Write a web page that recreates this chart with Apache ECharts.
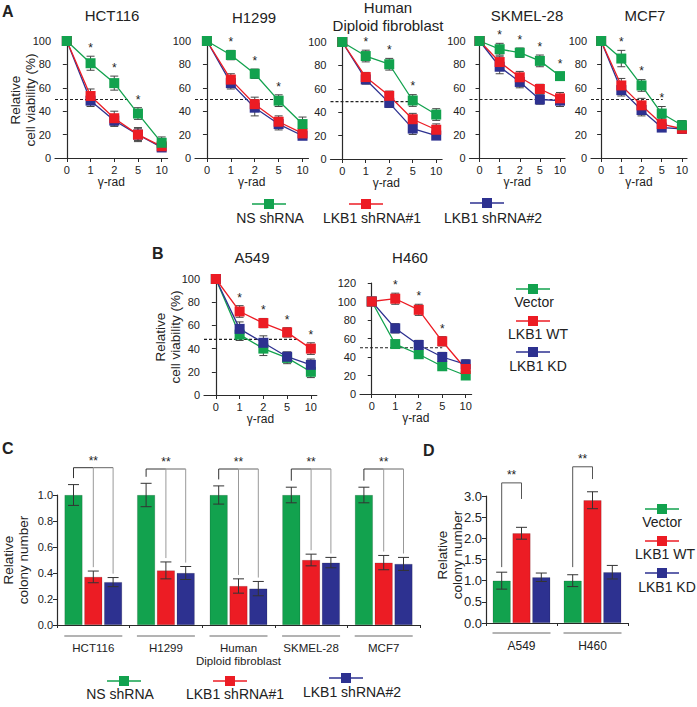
<!DOCTYPE html>
<html><head><meta charset="utf-8">
<script src="https://cdn.jsdelivr.net/npm/echarts@6/dist/echarts.min.js"></script>
<style>html,body{margin:0;padding:0;background:#fff}#c{width:697px;height:707px}</style>
</head><body><div id="c"></div>
<script>
// ================= DATA =================
const doses = ['0', '1', '2', '5', '10'];
const shNames = ['NS shRNA', 'LKB1 shRNA#1', 'LKB1 shRNA#2'];
const bNames = ['Vector', 'LKB1 WT', 'LKB1 KD'];

// Panel A: relative cell viability (%)
const aCells = ['HCT116', 'H1299', 'Human\nDiploid fibroblast', 'SKMEL-28', 'MCF7'];
const aNS   = [[100, 81, 64, 38, 13], [100, 88, 72, 49, 29], [100, 88, 81, 50, 38], [100, 93, 90, 83, 70], [100, 85, 62, 38, 28]];
const aNSe  = [[0, 6, 6, 5, 5], [0, 4, 4, 5, 6], [0, 5, 5, 5, 5], [0, 5, 4, 5, 3], [0, 7, 5, 6, 4]];
const aSh1  = [[100, 53, 34, 20, 10], [100, 67, 46, 31, 21], [100, 70, 54, 34, 25], [100, 82, 69, 59, 51], [100, 62, 45, 29, 25]];
const aSh1e = [[0, 6, 6, 6, 3], [0, 5, 6, 5, 3], [0, 4, 4, 5, 5], [0, 5, 5, 4, 5], [0, 6, 6, 5, 4]];
const aSh2  = [[100, 49, 32, 20, 9], [100, 64, 43, 29, 19], [100, 68, 48, 26, 20], [100, 78, 65, 50, 49], [100, 58, 41, 26, 25]];
const aSh2e = [[0, 5, 5, 5, 3], [0, 5, 7, 5, 3], [0, 4, 4, 5, 3], [0, 6, 5, 4, 5], [0, 5, 5, 3, 4]];
const aStars = [[1, 2, 3], [1, 2, 3], [1, 2, 3], [1, 2, 3, 4], [1, 2, 3]];
const aHalf = [50, 50, 49, 50, 50];
const aHalfEnd = [2.6, 3.1, 2.85, 4, 3.05];

// Panel B
const bCells = ['A549', 'H460'];
const bVec  = [[100, 52, 40, 32, 20], [100, 54, 43, 30, 20]];
const bVecE = [[0, 5, 6, 5, 5], [0, 4, 4, 4, 3]];
const bWT   = [[100, 72, 62, 54, 40], [100, 103, 91, 57, 27]];
const bWTe  = [[0, 5, 4, 4, 5], [0, 6, 6, 5, 5]];
const bKD   = [[100, 57, 45, 33, 26], [100, 71, 53, 40, 32]];
const bKDe  = [[0, 6, 6, 4, 5], [0, 5, 5, 5, 5]];
const bStars = [[1, 2, 3, 4], [1, 2, 3]];
const bHalf = [48, 50];
const bHalfEnd = [3.4, 3.0];
const bYmax = [100, 120];

// Panel C: relative colony number
const cCells = ['HCT116', 'H1299', 'Human\nDiploid fibroblast', 'SKMEL-28', 'MCF7'];
const cNS   = [1, 1, 1, 1, 1];
const cNSe  = [0.08, 0.09, 0.07, 0.06, 0.06];
const cSh1  = [0.37, 0.42, 0.30, 0.50, 0.48];
const cSh1e = [0.045, 0.065, 0.055, 0.045, 0.055];
const cSh2  = [0.33, 0.40, 0.28, 0.48, 0.47];
const cSh2e = [0.035, 0.05, 0.055, 0.04, 0.05];
const cBracketTop = [1.21, 1.2, 1.2, 1.2, 1.2];

// Panel D
const dCells = ['A549', 'H460'];
const dVec  = [1.0, 1.0];
const dVecE = [0.2, 0.14];
const dWT   = [2.12, 2.9];
const dWTe  = [0.14, 0.2];
const dKD   = [1.08, 1.2];
const dKDe  = [0.1, 0.16];
const dBracketTop = [3.31, 3.69];
const dBracketLeftEnd = [1.32, 1.32];
const dBracketRightEnd = [2.93, 3.4];

// ================= STYLE / LAYOUT =================
const FONT = '"Liberation Sans", Arial, Helvetica, sans-serif';
const GREEN = '#12a24e', RED = '#ec1c24', BLUE = '#2d3190';
const AX = '#2a2a2a', TXT = '#222';
const aBoxes = [[55, 41, 112.6, 117], [195, 41, 113.5, 117], [330.5, 42, 111.6, 117], [469.5, 41, 95.5, 117], [591, 41, 96, 117]];
const bBoxes = [[204, 279, 112.8, 116], [360, 283, 111.6, 111]];
const BW = 18, BOFF = 19.8;

const grids = [], xAxes = [], yAxes = [], series = [], graphics = [];

function errItem(cap, dx, color) {
  return function (params, api) {
    const x = api.value(0), v = api.value(1), e = api.value(2);
    if (!e) return null;
    const t = api.coord([x, v + e]), b = api.coord([x, v - e]);
    const cx = t[0] + dx;
    const st = { stroke: color, lineWidth: 1 };
    return { type: 'group', children: [
      { type: 'line', shape: { x1: cx, y1: t[1], x2: cx, y2: b[1] }, style: st },
      { type: 'line', shape: { x1: cx - cap / 2, y1: t[1], x2: cx + cap / 2, y2: t[1] }, style: st },
      { type: 'line', shape: { x1: cx - cap / 2, y1: b[1], x2: cx + cap / 2, y2: b[1] }, style: st }
    ] };
  };
}
function starItem(params, api) {
  const p = api.coord([api.value(0), api.value(1)]);
  return { type: 'text', x: p[0], y: p[1] - 1, style: { text: '*', fill: TXT, font: '12px ' + FONT, align: 'center', verticalAlign: 'bottom' } };
}

function linePlot(box, sets, starIdx, starSet, half, halfEnd, ymax) {
  const gi = grids.length;
  grids.push({ left: box[0], top: box[1], width: box[2], height: box[3] });
  xAxes.push({
    gridIndex: gi, type: 'value', min: -0.5, max: 4.25,
    axisLine: { show: true, onZero: false, lineStyle: { color: AX, width: 1.2 } },
    axisTick: { show: true, customValues: [0, 1, 2, 3, 4], length: 4, lineStyle: { color: AX } },
    axisLabel: { customValues: [0, 1, 2, 3, 4], formatter: v => doses[v], margin: 6, fontSize: 11, color: TXT, fontFamily: FONT },
    splitLine: { show: false },
    name: 'γ-rad', nameLocation: 'middle', nameGap: 18, nameTextStyle: { fontSize: 12, color: TXT, fontFamily: FONT }
  });
  yAxes.push({
    gridIndex: gi, type: 'value', min: 0, max: ymax, interval: 20,
    axisLine: { show: true, lineStyle: { color: AX, width: 1.2 } },
    axisTick: { show: true, length: 4, lineStyle: { color: AX } },
    axisLabel: { margin: 4, fontSize: 11, color: TXT, fontFamily: FONT },
    splitLine: { show: false }
  });
  series.push({ type: 'line', xAxisIndex: gi, yAxisIndex: gi, data: [[-0.5, half], [halfEnd, half]], symbol: 'none', silent: true, z: 1,
    lineStyle: { color: '#222', width: 1.2, type: [3, 2] } });
  sets.forEach(s => {
    series.push({ type: 'custom', xAxisIndex: gi, yAxisIndex: gi, z: 2, silent: true, renderItem: errItem(8, 0, '#444'),
      encode: { x: 0, y: 1 }, data: s.v.map((v, j) => [j, v, s.e[j]]) });
  });
  sets.forEach(s => {
    series.push({ type: 'line', name: s.name, xAxisIndex: gi, yAxisIndex: gi, z: 3, clip: false,
      data: s.v.map((v, j) => [j, v]), symbol: 'rect', symbolSize: 10,
      lineStyle: { color: s.c, width: 1.3 }, itemStyle: { color: s.c } });
  });
  series.push({ type: 'custom', xAxisIndex: gi, yAxisIndex: gi, z: 4, silent: true, renderItem: starItem, encode: { x: 0, y: 1 },
    data: starIdx.map(j => [j, starSet.v[j] + starSet.e[j] + 1]) });
}

// Panel A plots
aCells.forEach((c, i) => {
  const ns = { name: shNames[0], v: aNS[i], e: aNSe[i], c: GREEN };
  const s1 = { name: shNames[1], v: aSh1[i], e: aSh1e[i], c: RED };
  const s2 = { name: shNames[2], v: aSh2[i], e: aSh2e[i], c: BLUE };
  linePlot(aBoxes[i], [s2, s1, ns], aStars[i], ns, aHalf[i], aHalfEnd[i], 100);
});
// Panel B plots
bCells.forEach((c, i) => {
  const vec = { name: bNames[0], v: bVec[i], e: bVecE[i], c: GREEN };
  const wt = { name: bNames[1], v: bWT[i], e: bWTe[i], c: RED };
  const kd = { name: bNames[2], v: bKD[i], e: bKDe[i], c: BLUE };
  linePlot(bBoxes[i], [vec, kd, wt], bStars[i], wt, bHalf[i], bHalfEnd[i], bYmax[i]);
});

// Bar plots
function barPlot(box, cats, sets, ymax, interval, fs, labFs, labMargin, lineGap) {
  const gi = grids.length;
  grids.push({ left: box[0], top: box[1], width: box[2], height: box[3] });
  xAxes.push({
    gridIndex: gi, type: 'category', data: cats,
    axisLine: { show: true, lineStyle: { color: AX, width: 1.2 } },
    axisTick: { show: true, length: 3, lineStyle: { color: AX } },
    axisLabel: { margin: labMargin, fontSize: labFs, lineHeight: labFs + 1, color: TXT, fontFamily: FONT, interval: 0 },
    splitLine: { show: false }
  });
  yAxes.push({
    gridIndex: gi, type: 'value', min: 0, max: ymax, interval: interval,
    axisLine: { show: true, lineStyle: { color: AX, width: 1.2 } },
    axisTick: { show: true, length: 4, lineStyle: { color: AX } },
    axisLabel: { margin: 4, fontSize: fs, color: TXT, fontFamily: FONT, formatter: v => v.toFixed(1) },
    splitLine: { show: false }
  });
  sets.forEach(s => {
    series.push({ type: 'bar', name: s.name, xAxisIndex: gi, yAxisIndex: gi, data: s.v, barWidth: BW, barGap: '10%',
      itemStyle: { color: s.c, borderColor: 'rgba(0,0,0,0.25)', borderWidth: 0.6 }, z: 2 });
  });
  sets.forEach((s, k) => {
    series.push({ type: 'custom', xAxisIndex: gi, yAxisIndex: gi, z: 4, silent: true, renderItem: errItem(11, (k - 1) * BOFF, '#333'),
      encode: { x: 0, y: 1 }, data: s.v.map((v, j) => [j, v, s.e[j]]) });
  });
  // grey underline below each group
  series.push({ type: 'custom', xAxisIndex: gi, yAxisIndex: gi, z: 4, silent: true, encode: { x: 0, y: 1 },
    data: cats.map((c, j) => [j, 0]),
    renderItem: (params, api) => {
      const p = api.coord([api.value(0), 0]);
      return { type: 'line', shape: { x1: p[0] - 29, y1: p[1] + lineGap, x2: p[0] + 29, y2: p[1] + lineGap }, style: { stroke: '#9a9a9a', lineWidth: 1.5 } };
    } });
  return gi;
}

// Panel C
const cgi = barPlot([57, 495, 363, 130], cCells,
  [{ name: shNames[0], v: cNS, e: cNSe, c: GREEN }, { name: shNames[1], v: cSh1, e: cSh1e, c: RED }, { name: shNames[2], v: cSh2, e: cSh2e, c: BLUE }],
  1.0, 0.2, 11, 11.5, 17, 11);
series.push({ type: 'custom', xAxisIndex: cgi, yAxisIndex: cgi, z: 5, silent: true, encode: { x: 0, y: 1 },
  data: cCells.map((c, i) => [i, cBracketTop[i], cNS[i] + cNSe[i] + 0.05, cSh1[i] + cSh1e[i] + 0.03, cSh2[i] + cSh2e[i] + 0.03]),
  renderItem: (params, api) => {
    const i = api.value(0);
    const top = api.coord([i, api.value(1)]);
    const yL = api.coord([i, api.value(2)])[1], yM = api.coord([i, api.value(3)])[1], yR = api.coord([i, api.value(4)])[1];
    const x0 = top[0] - BOFF, x1 = top[0], x2 = top[0] + BOFF, ty = top[1];
    const dark = { stroke: '#333', lineWidth: 1 }, grey = { stroke: '#999', lineWidth: 1 };
    return { type: 'group', children: [
      { type: 'line', shape: { x1: x0, y1: ty, x2: x0, y2: yL }, style: dark },
      { type: 'line', shape: { x1: x0, y1: ty, x2: x1, y2: ty }, style: dark },
      { type: 'line', shape: { x1: x1, y1: ty, x2: x2, y2: ty }, style: { stroke: '#666', lineWidth: 1 } },
      { type: 'line', shape: { x1: x1, y1: ty, x2: x1, y2: yM }, style: grey },
      { type: 'line', shape: { x1: x2, y1: ty, x2: x2, y2: yR }, style: grey },
      { type: 'text', x: x1, y: ty - 1, style: { text: '**', fill: TXT, font: '12px ' + FONT, align: 'center', verticalAlign: 'bottom' } }
    ] };
  } });

// Panel D
const dgi = barPlot([486, 496, 142, 127], dCells,
  [{ name: bNames[0], v: dVec, e: dVecE, c: GREEN }, { name: bNames[1], v: dWT, e: dWTe, c: RED }, { name: bNames[2], v: dKD, e: dKDe, c: BLUE }],
  3.0, 0.5, 13, 12, 16, 10);
series.push({ type: 'custom', xAxisIndex: dgi, yAxisIndex: dgi, z: 5, silent: true, encode: { x: 0, y: 1 },
  data: dCells.map((c, i) => [i, dBracketTop[i], dBracketLeftEnd[i], dBracketRightEnd[i]]),
  renderItem: (params, api) => {
    const i = api.value(0);
    const top = api.coord([i, api.value(1)]);
    const yL = api.coord([i, api.value(2)])[1], yR = api.coord([i, api.value(3)])[1];
    const x0 = top[0] - BOFF, x1 = top[0], ty = top[1];
    const st = { stroke: '#555', lineWidth: 1 };
    return { type: 'group', children: [
      { type: 'line', shape: { x1: x0, y1: ty, x2: x0, y2: yL }, style: st },
      { type: 'line', shape: { x1: x0, y1: ty, x2: x1, y2: ty }, style: st },
      { type: 'line', shape: { x1: x1, y1: ty, x2: x1, y2: yR }, style: st },
      { type: 'text', x: (x0 + x1) / 2, y: ty - 2, style: { text: '**', fill: TXT, font: '12px ' + FONT, align: 'center', verticalAlign: 'bottom' } }
    ] };
  } });

// ================= TEXT / LEGENDS (graphic) =================
function txt(text, x, y, size, opts) {
  opts = opts || {};
  graphics.push({ type: 'text', x: x, y: y, rotation: opts.rot || 0, silent: true,
    style: { text: text, fill: TXT, font: (opts.bold ? 'bold ' : '') + size + 'px ' + FONT, align: opts.align || 'center',
      verticalAlign: opts.va || 'middle', lineHeight: opts.lh || size + 2 } });
}
function legItem(color, mx, my, label, tx, ty, size) {
  graphics.push({ type: 'line', silent: true, shape: { x1: mx - 17, y1: my, x2: mx + 17, y2: my }, style: { stroke: color, lineWidth: 1.5 } });
  graphics.push({ type: 'rect', silent: true, shape: { x: mx - 5, y: my - 5, width: 10, height: 10 }, style: { fill: color } });
  txt(label, tx, ty, size);
}

// panel letters
txt('A', 2, 11, 16, { bold: true, align: 'left' });
txt('B', 152, 253, 16, { bold: true, align: 'left' });
txt('C', 2, 448, 16, { bold: true, align: 'left' });
txt('D', 423, 450, 16, { bold: true, align: 'left' });

// titles
const aTitlePos = [[112, 15], [254, 17], [388, 16], [527, 15], [645, 15]];
aCells.forEach((c, i) => txt(c, aTitlePos[i][0], aTitlePos[i][1], 15, { lh: 18 }));
txt(bCells[0], 252, 257, 15);
txt(bCells[1], 410, 257, 15);

// y-axis names
txt('Relative\ncell viability (%)', 23, 100, 13.5, { rot: Math.PI / 2, lh: 15 });
txt('Relative\ncell viability (%)', 168, 337, 13.5, { rot: Math.PI / 2, lh: 15 });
txt('Relative\ncolony number', 16, 560, 13.5, { rot: Math.PI / 2, lh: 15 });
txt('Relative\ncolony number', 450, 555, 13.5, { rot: Math.PI / 2, lh: 15 });

// legends
legItem(GREEN, 269, 204, shNames[0], 270, 218, 14);
legItem(RED, 366, 204, shNames[1], 372, 218, 14);
legItem(BLUE, 487, 203, shNames[2], 493, 218, 14);

legItem(GREEN, 533, 289, bNames[0], 534, 302, 14);
legItem(RED, 533, 321, bNames[1], 538, 334, 14);
legItem(BLUE, 533, 352, bNames[2], 538, 366, 14);

legItem(GREEN, 124, 681, shNames[0], 120, 694, 14);
legItem(RED, 230, 681, shNames[1], 235, 694, 14);
legItem(BLUE, 346, 678, shNames[2], 352, 692, 14);

legItem(GREEN, 662, 509, bNames[0], 662, 522, 14);
legItem(RED, 662, 541, bNames[1], 665, 554, 14);
legItem(BLUE, 662, 573, bNames[2], 667, 587, 14);

const chart = echarts.init(document.getElementById('c'), null, { renderer: 'svg', width: 697, height: 707 });
chart.setOption({
  animation: false,
  backgroundColor: '#fff',
  textStyle: { fontFamily: FONT },
  grid: grids, xAxis: xAxes, yAxis: yAxes, series: series,
  graphic: { elements: graphics }
});
</script>
</body></html>
